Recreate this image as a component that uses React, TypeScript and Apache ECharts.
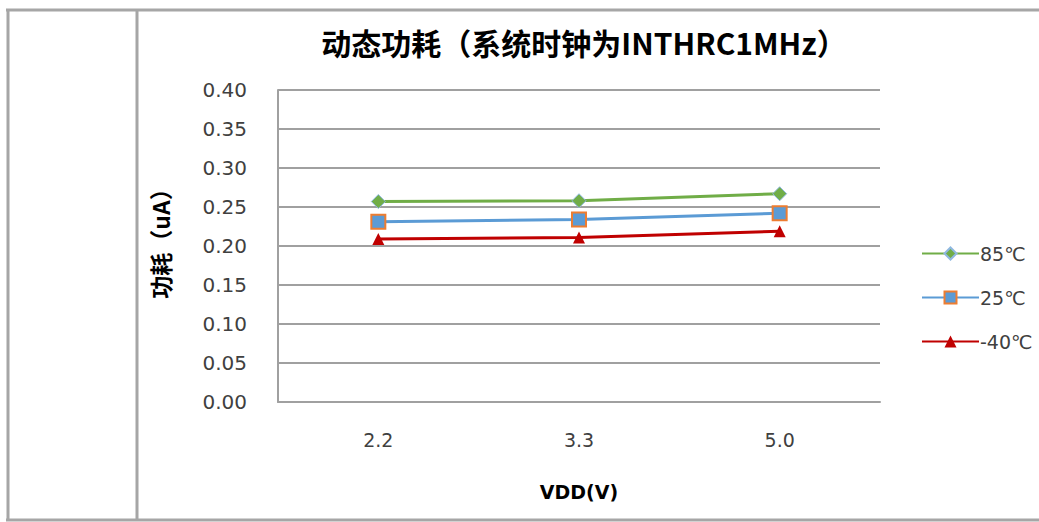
import React, { useEffect, useRef } from "react";
import * as echarts from "echarts";

const categories = ["2.2", "3.3", "5.0"];
const s85 = [0.257, 0.258, 0.267];
const s25 = [0.231, 0.234, 0.242];
const sm40 = [0.209, 0.211, 0.219];
const seriesNames = ["85℃", "25℃", "-40℃"];
const titleText = "动态功耗（系统时钟为INTHRC1MHz）";
const xName = "VDD(V)";
const yName = "功耗（uA）";

export default function App() {
  const ref = useRef<HTMLDivElement>(null);
  useEffect(() => {
    if (!ref.current) return;
    const chart = echarts.init(ref.current, null, { renderer: "svg" });
    const frame = "#a6a6a6";
    const font = "'DejaVu Sans', 'Noto Sans CJK SC', sans-serif";
    const cjk = "'Noto Sans CJK SC', sans-serif";
    chart.setOption({
      animation: false,
      backgroundColor: "#ffffff",
      title: {
        text: titleText,
        left: 579,
        textAlign: "center",
        top: 22,
        textStyle: { fontSize: 30, fontWeight: "bold", color: "#000", fontFamily: cjk },
      },
      graphic: [
        { type: "line", shape: { x1: 6, y1: 10, x2: 1039, y2: 10 }, style: { stroke: frame, lineWidth: 3 } },
        { type: "line", shape: { x1: 8, y1: 10, x2: 8, y2: 521 }, style: { stroke: frame, lineWidth: 3 } },
        { type: "line", shape: { x1: 6, y1: 520, x2: 1039, y2: 520 }, style: { stroke: frame, lineWidth: 3 } },
        { type: "line", shape: { x1: 137, y1: 10, x2: 137, y2: 520 }, style: { stroke: frame, lineWidth: 3 } },
      ],
      legend: {
        orient: "vertical",
        left: 916,
        top: 239,
        itemWidth: 57,
        itemHeight: 15,
        itemGap: 25,
        textStyle: { fontSize: 19, color: "#404040", fontFamily: font, padding: [0, 0, 0, -4] },
        data: seriesNames,
      },
      grid: { left: 278, top: 90, right: 159, bottom: 120, containLabel: false },
      xAxis: {
        type: "category",
        data: categories,
        boundaryGap: true,
        name: xName,
        nameLocation: "middle",
        nameGap: 80,
        nameTextStyle: { fontSize: 19, fontWeight: "bold", color: "#000", fontFamily: font },
        axisLine: { lineStyle: { color: "#a0a0a0", width: 2 } },
        axisTick: { show: false },
        axisLabel: { fontSize: 19, color: "#404040", margin: 28, fontFamily: font },
      },
      yAxis: {
        type: "value",
        min: 0,
        max: 0.4,
        interval: 0.05,
        name: yName,
        nameLocation: "middle",
        nameGap: 107,
        nameTextStyle: { fontSize: 23, fontWeight: "bold", color: "#000", fontFamily: cjk, padding: [0, 0, 0, 16] },
        axisLine: { show: true, lineStyle: { color: "#a0a0a0", width: 2 } },
        axisTick: { show: false },
        splitLine: { lineStyle: { color: "#a0a0a0", width: 2 } },
        axisLabel: {
          fontSize: 20,
          color: "#404040",
          margin: 31,
          fontFamily: font,
          formatter: (v: number) => v.toFixed(2),
        },
      },
      series: [
        {
          name: seriesNames[0],
          type: "line",
          data: s85,
          symbol: "diamond",
          symbolSize: 14,
          lineStyle: { color: "#70ad47", width: 3 },
          itemStyle: { color: "#70ad47", borderColor: "#8fb8e0", borderWidth: 1 },
        },
        {
          name: seriesNames[1],
          type: "line",
          data: s25,
          symbol: "rect",
          symbolSize: 14,
          lineStyle: { color: "#5b9bd5", width: 3 },
          itemStyle: { color: "#5b9bd5", borderColor: "#ed7d31", borderWidth: 2 },
        },
        {
          name: seriesNames[2],
          type: "line",
          data: sm40,
          symbol: "triangle",
          symbolSize: 12,
          lineStyle: { color: "#c00000", width: 3 },
          itemStyle: { color: "#c00000" },
        },
      ],
    });
    return () => chart.dispose();
  }, []);
  return (
    <div
      ref={ref}
      style={{ position: "fixed", left: 0, top: 0, width: 1039, height: 522 }}
    />
  );
}
